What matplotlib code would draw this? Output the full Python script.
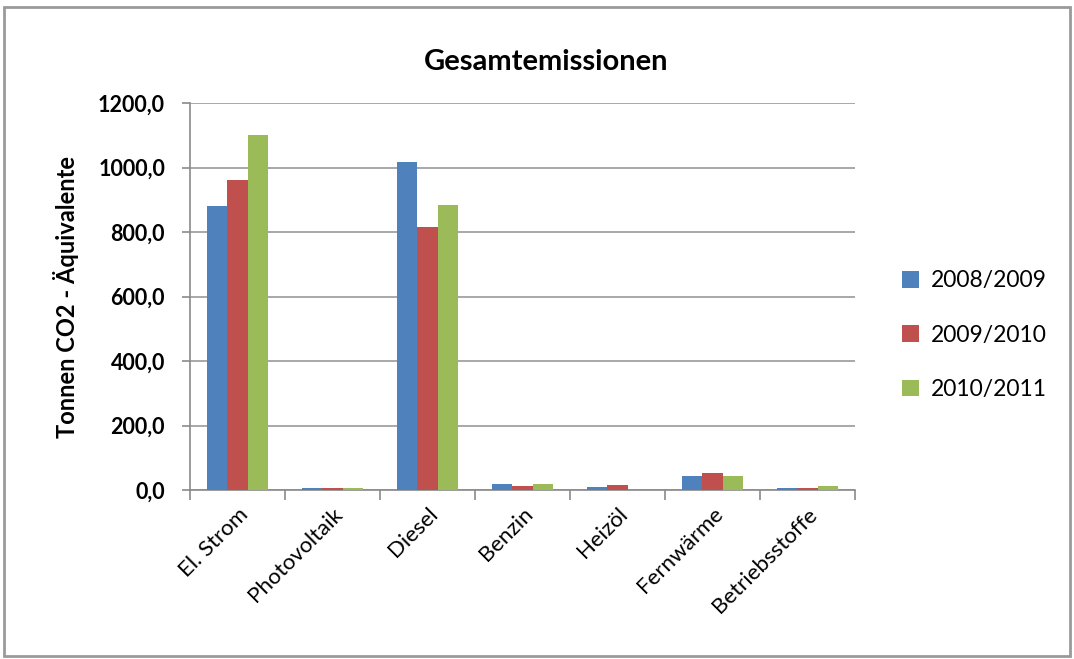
import numpy as np
import matplotlib.pyplot as plt
from matplotlib.patches import Rectangle
from matplotlib.ticker import FuncFormatter, FixedLocator

# Data
categories = ["El. Strom", "Photovoltaik", "Diesel", "Benzin", "Heizöl", "Fernwärme", "Betriebsstoffe"]
years = ["2008/2009", "2009/2010", "2010/2011"]
v_2008 = [880, 5, 1018, 19, 10, 44, 6]
v_2009 = [961, 5, 816, 11, 15, 52, 6]
v_2010 = [1100, 5, 883, 19, 0, 44, 13]
colors = ["#4F81BD", "#C0504D", "#9BBB59"]

plt.rcParams["font.family"] = ["Lato", "DejaVu Sans"]

fig = plt.figure(figsize=(10.74, 6.59), dpi=100)
ax = fig.add_axes([0.177, 0.2564, 0.619, 0.5873])

x = np.arange(len(categories))
w = 0.215
for i, (vals, lab) in enumerate(zip([v_2008, v_2009, v_2010], years)):
    ax.bar(x + (i - 1) * w, vals, width=w, color=colors[i], label=lab, zorder=3)

ax.set_xlim(-0.5, len(categories) - 0.5)
ax.set_ylim(0, 1200)
ax.set_yticks(np.arange(0, 1201, 200))
ax.yaxis.set_major_formatter(FuncFormatter(lambda v, p: f"{v:.1f}".replace(".", ",")))
ax.grid(axis="y", color="#9a9a9a", linewidth=1.2, zorder=0)

ax.set_xticks(x)
ax.set_xticklabels(categories, rotation=45, ha="right", rotation_mode="anchor", fontsize=16)
ax.tick_params(axis="x", length=0, pad=10)
ax.xaxis.set_minor_locator(FixedLocator(np.arange(-0.5, len(categories), 1)))
ax.tick_params(axis="x", which="minor", length=7, color="#8a8a8a", width=1.2)
ax.tick_params(axis="y", length=6, color="#8a8a8a", width=1.2, labelsize=15.5, pad=12)
for lbl in ax.get_yticklabels():
    lbl.set_fontweight("bold")

for s in ["top", "right"]:
    ax.spines[s].set_visible(False)
for s in ["left", "bottom"]:
    ax.spines[s].set_color("#8a8a8a")
    ax.spines[s].set_linewidth(1.2)

ax.set_title("Gesamtemissionen", fontsize=21, fontweight="bold", pad=24, x=0.535)
ax.set_ylabel("Tonnen CO2 - Äquivalente", fontsize=17, fontweight="bold", labelpad=14)

ax.legend(loc="center left", bbox_to_anchor=(1.04, 0.4), frameon=False,
          fontsize=16.5, handlelength=0.75, handleheight=0.75, labelspacing=1.45, handletextpad=0.5)

fig.patches.append(Rectangle((0.004, 0.004), 0.992, 0.985, transform=fig.transFigure,
                             fill=False, edgecolor="#9a9a9a", linewidth=2))

fig.savefig("out.png", dpi=100)
